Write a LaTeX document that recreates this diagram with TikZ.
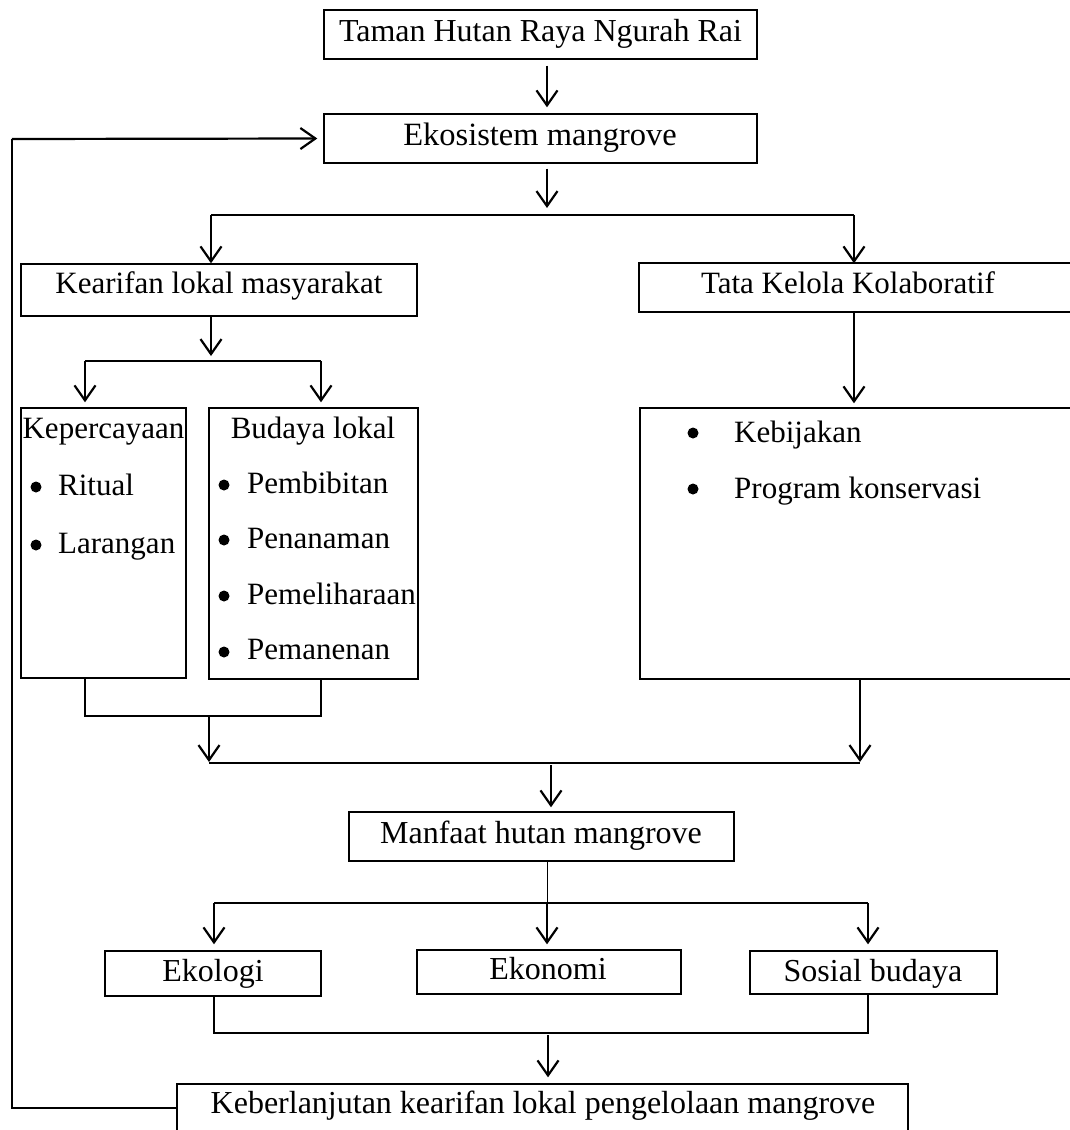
\documentclass[tikz,border=0pt]{standalone}
\usepackage{fontspec}
\setmainfont{Liberation Serif}
\usetikzlibrary{arrows.meta}
\begin{document}
\begin{tikzpicture}[x=1pt,y=-1pt,
  box/.style={draw, line width=1.4pt, inner sep=0pt},
  txt/.style={anchor=base, inner sep=0pt, font=\fontsize{32}{38}\selectfont},
  txs/.style={anchor=base, inner sep=0pt, font=\fontsize{31}{37}\selectfont},
  itm/.style={anchor=base west, inner sep=0pt, font=\fontsize{31}{37}\selectfont},
  dot/.style={circle, fill, inner sep=0pt, minimum size=11pt},
  arr/.style={line width=2.2pt, -{Straight Barb[length=15pt,width=21pt,line width=2.2pt]}},
  ln/.style={line width=1.3pt}]
\useasboundingbox (0,0) rectangle (1070,1130);

% boxes
\node[box, minimum width=433pt, minimum height=49pt] (taman) at (540.5,34.5) {};
\node[box, minimum width=433pt, minimum height=49pt] (ekos) at (540.5,138.5) {};
\node[box, minimum width=396pt, minimum height=52pt] (kear) at (219,290) {};
\node[box, minimum width=436pt, minimum height=49pt] (tata) at (857,287.5) {};
\node[box, minimum width=165pt, minimum height=270pt] (kep) at (103.5,543) {};
\node[box, minimum width=209pt, minimum height=271pt] (bud) at (313.5,543.5) {};
\node[box, minimum width=435pt, minimum height=271pt] (keb) at (857.5,543.5) {};
\node[box, minimum width=385pt, minimum height=49pt] (manf) at (541.5,836.5) {};
\node[box, minimum width=216pt, minimum height=45pt] (ekol) at (213,973.5) {};
\node[box, minimum width=264pt, minimum height=44pt] (ekon) at (549,972) {};
\node[box, minimum width=247pt, minimum height=43pt] (sos) at (873.5,972.5) {};
\node[box, minimum width=731pt, minimum height=52pt] (berl) at (542.5,1110) {};

% texts
\node[txt] (tamanT) at (540.5,41) {Taman Hutan Raya Ngurah Rai};
\node[txt, font=\fontsize{32.5}{38}\selectfont] (ekosT) at (540,145) {Ekosistem mangrove};
\node[txs] (kearT) at (219,293) {Kearifan lokal masyarakat};
\node[txs] (tataT) at (848,293) {Tata Kelola Kolaboratif};
\node[txs] (kepT) at (103.5,438) {Kepercayaan};
\node[txs] (budT) at (313,438) {Budaya lokal};
\node[txt] (manfT) at (541,843) {Manfaat hutan mangrove};
\node[txt] (ekolT) at (213,981) {Ekologi};
\node[txt] (ekonT) at (548,979) {Ekonomi};
\node[txt] (sosT) at (873,981) {Sosial budaya};
\node[txt] (berlT) at (543,1113) {Keberlanjutan kearifan lokal pengelolaan mangrove};

% bullet items
\node[dot] (b1) at (36,487) {};
\node[itm] (i1) at (58,495) {Ritual};
\node[dot] (b2) at (36,545) {};
\node[itm] (i2) at (58,553) {Larangan};
\node[dot] (b3) at (224,485) {};
\node[itm] (i3) at (247,493) {Pembibitan};
\node[dot] (b4) at (224,540) {};
\node[itm] (i4) at (247,548) {Penanaman};
\node[dot] (b5) at (224,596) {};
\node[itm] (i5) at (247,604) {Pemeliharaan};
\node[dot] (b6) at (224,652) {};
\node[itm] (i6) at (247,659) {Pemanenan};
\node[dot] (b7) at (693,433) {};
\node[itm] (i7) at (734,442) {Kebijakan};
\node[dot] (b8) at (693,489) {};
\node[itm] (i8) at (734,498) {Program konservasi};

% junction coordinates
\coordinate (j1L) at (211,215);
\coordinate (j1M) at (547,215);
\coordinate (j1R) at (854,215);
\coordinate (j2L) at (85,361);
\coordinate (j2M) at (211,361);
\coordinate (j2R) at (321,361);
\coordinate (j3L) at (85,716);
\coordinate (j3R) at (321,716);
\coordinate (j3M) at (209,716);
\coordinate (j4L) at (209,763);
\coordinate (j4R) at (860,763);
\coordinate (j4M) at (551,763);
\coordinate (j5L) at (214,903);
\coordinate (j5M) at (547,903);
\coordinate (j5R) at (868,903);
\coordinate (j6L) at (214,1033);
\coordinate (j6R) at (868,1033);
\coordinate (j6M) at (548,1033);
\coordinate (fbB) at (12,1108);
\coordinate (fbT) at (12,139);

% connectors
\draw[arr] ([xshift=6.5pt,yshift=-6pt]taman.south) -- ([xshift=6.5pt,yshift=6pt]ekos.north);
\draw[arr] ([xshift=6.5pt,yshift=-5pt]ekos.south) -- ([yshift=7pt]j1M);
\draw[ln] (j1L) -- (j1R);
\draw[arr] (j1L) -- (j1L |- kear.north);
\draw[arr] (j1R) -- ([yshift=-1pt]j1R |- tata.north);
\draw[arr] (kear.south -| j2M) -- ([yshift=5pt]j2M);
\draw[ln] (j2L) -- (j2R);
\draw[arr] (j2L) -- ([yshift=5pt]j2L |- kep.north);
\draw[arr] (j2R) -- ([yshift=5pt]j2R |- bud.north);
\draw[ln] (kep.south -| j3L) -- (j3L) -- (j3R) -- (bud.south -| j3R);
\draw[arr] ([yshift=-1pt]j3M) -- ([yshift=1pt]j4L);
\draw[ln] (j4L) -- (j4R);
\draw[arr] (tata.south -| j1R) -- ([yshift=4pt]j1R |- keb.north);
\draw[arr] (keb.south -| j4R) -- ([yshift=1pt]j4R);
\draw[arr] ([yshift=-2pt]j4M) -- ([yshift=4pt]j4M |- manf.north);
\draw[line width=0.8pt] (manf.south -| j5M) -- (j5M);
\draw[ln] (j5L) -- (j5R);
\draw[arr] (j5L) -- ([yshift=6pt]j5L |- ekol.north);
\draw[arr] (j5M) -- ([yshift=5pt]j5M |- ekon.north);
\draw[arr] (j5R) -- ([yshift=6pt]j5R |- sos.north);
\draw[ln] (ekol.south -| j6L) -- (j6L) -- (j6R) -- (sos.south -| j6R);
\draw[arr] ([yshift=-2pt]j6M) -- ([yshift=6pt]j6M |- berl.north);
\draw[line width=1.5pt] (berl.west |- fbB) -- (fbB) -- (fbT);
\draw[arr] (fbT) -- ([xshift=-6pt]ekos.west);
\end{tikzpicture}
\end{document}
